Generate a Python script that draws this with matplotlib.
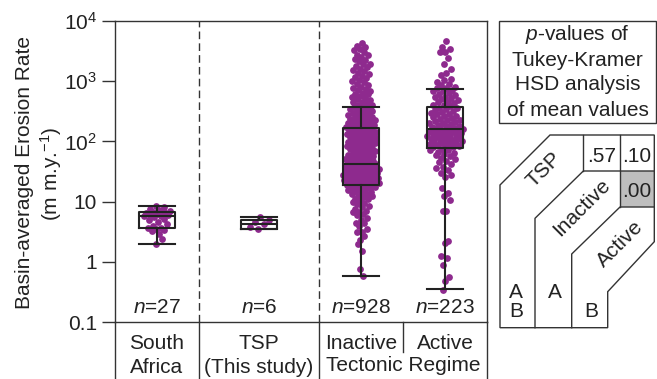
import numpy as np
import matplotlib
matplotlib.use('Agg')
import matplotlib.pyplot as plt
from matplotlib.transforms import blended_transform_factory
from matplotlib.patches import Polygon, Rectangle
from matplotlib.ticker import NullLocator, FixedLocator, FixedFormatter

plt.rcParams['font.family'] = ['Liberation Sans', 'DejaVu Sans']
plt.rcParams['mathtext.fontset'] = 'custom'
plt.rcParams['mathtext.rm'] = 'Liberation Sans'
plt.rcParams['mathtext.it'] = 'Liberation Sans:italic'
plt.rcParams['mathtext.bf'] = 'Liberation Sans:bold'

# ---------------- data ----------------
categories = ['South Africa', 'TSP', 'Inactive', 'Active']
cat_line1 = ['South', 'TSP', 'Inactive', 'Active']
cat_line2 = ['Africa', '(This study)']
regime_label = 'Tectonic Regime'
n_counts = [27, 6, 928, 223]

box_whislo = [2.0, 3.5, 0.58, 0.35]
box_q1 = [3.6, 3.5, 19.0, 77.5]
box_med = [5.7, 4.25, 42.5, 158.0]
box_q3 = [6.6, 5.0, 165.0, 369.0]
box_whishi = [8.3, 5.6, 369.0, 740.0]

south_africa_rates = [2.0, 2.4, 2.9, 3.2, 3.4, 3.5, 3.6, 3.7, 3.9, 4.2, 4.6, 4.9, 5.2, 5.5,
                      5.7, 5.8, 5.9, 6.1, 6.3, 6.5, 6.6, 6.8, 7.0, 7.3, 7.6, 8.0, 8.6]
tsp_rates = [3.5, 3.8, 4.2, 4.5, 4.9, 5.6]

inactive_log10 = [
    3.64, 3.59, 3.57, 3.53, 3.51, 3.48, 3.44, 3.43, 3.40, 3.37, 3.36, 3.33, 3.29, 3.28, 3.25,
    3.23, 3.21, 3.18, 3.17, 3.14, 3.12, 3.09, 3.07, 3.05, 3.02, 3.01, 2.98, 2.95, 2.94, 2.91,
    2.89, 2.87, 2.85, 2.83, 2.81, 2.79, 2.78, 2.76, 2.73, 2.72, 2.70, 2.68, 2.66, 2.65, 2.63,
    2.61, 2.60, 2.58, 2.57, 2.56, 2.54, 2.53, 2.52, 2.51, 2.50, 2.48, 2.47, 2.46, 2.45, 2.44,
    2.42, 2.42, 2.41, 2.39, 2.38, 2.38, 2.37, 2.35, 2.35, 2.34, 2.33, 2.31, 2.31, 2.30, 2.29,
    2.28, 2.27, 2.26, 2.26, 2.24, 2.24, 2.23, 2.22, 2.21, 2.20, 2.19, 2.19, 2.18, 2.16, 2.16,
    2.15, 2.14, 2.13, 2.12, 2.11, 2.10, 2.09, 2.08, 2.07, 2.07, 2.05, 2.05, 2.04, 2.02, 2.02,
    2.01, 1.99, 1.99, 1.98, 1.97, 1.95, 1.95, 1.94, 1.92, 1.92, 1.91, 1.89, 1.89, 1.88, 1.87,
    1.85, 1.85, 1.84, 1.82, 1.81, 1.81, 1.79, 1.78, 1.78, 1.76, 1.75, 1.74, 1.73, 1.72, 1.71,
    1.70, 1.69, 1.68, 1.67, 1.66, 1.65, 1.64, 1.63, 1.62, 1.62, 1.61, 1.60, 1.60, 1.59, 1.58,
    1.58, 1.57, 1.56, 1.56, 1.55, 1.54, 1.54, 1.53, 1.52, 1.52, 1.51, 1.50, 1.50, 1.49, 1.48,
    1.48, 1.47, 1.46, 1.46, 1.45, 1.44, 1.44, 1.43, 1.42, 1.42, 1.41, 1.40, 1.40, 1.39, 1.38,
    1.38, 1.37, 1.36, 1.36, 1.35, 1.34, 1.34, 1.33, 1.32, 1.32, 1.31, 1.30, 1.30, 1.29, 1.28,
    1.28, 1.27, 1.26, 1.25, 1.24, 1.23, 1.22, 1.21, 1.20, 1.19, 1.17, 1.16, 1.15, 1.13, 1.12,
    1.10, 1.09, 1.07, 1.05, 1.04, 1.02, 1.00, 0.98, 0.96, 0.93, 0.91, 0.88, 0.85, 0.83, 0.82,
    0.80, 0.77, 0.73, 0.69, 0.65, 0.64, 0.60, 0.55, 0.50, 0.49, 0.43, 0.37, 0.30, 0.18, -0.12,
    -0.24,
]

active_log10 = [
    3.67, 3.57, 3.54, 3.49, 3.48, 3.38, 3.29, 3.21, 3.14, 3.11, 3.04, 3.02, 2.98, 2.96, 2.93,
    2.91, 2.89, 2.88, 2.86, 2.84, 2.83, 2.80, 2.78, 2.77, 2.74, 2.73, 2.72, 2.70, 2.68, 2.66,
    2.65, 2.63, 2.61, 2.60, 2.58, 2.56, 2.55, 2.53, 2.52, 2.50, 2.49, 2.47, 2.46, 2.45, 2.43,
    2.42, 2.40, 2.39, 2.38, 2.36, 2.35, 2.34, 2.32, 2.31, 2.30, 2.29, 2.27, 2.26, 2.25, 2.24,
    2.23, 2.22, 2.21, 2.20, 2.20, 2.19, 2.18, 2.17, 2.16, 2.15, 2.14, 2.13, 2.12, 2.11, 2.10,
    2.09, 2.08, 2.07, 2.06, 2.05, 2.04, 2.03, 2.02, 2.01, 2.00, 1.99, 1.98, 1.97, 1.96, 1.95,
    1.94, 1.93, 1.92, 1.91, 1.90, 1.88, 1.86, 1.85, 1.83, 1.81, 1.79, 1.77, 1.75, 1.72, 1.70,
    1.67, 1.65, 1.62, 1.58, 1.55, 1.52, 1.48, 1.45, 1.41, 1.23, 1.14, 1.10, 1.02, 0.85, 0.84,
    0.35, 0.32, 0.10, 0.06, -0.05, -0.26, -0.32, -0.47,
]

pvalue_labels = ['.57', '.10', '.00']
group_letters = ['A\nB', 'A', 'B']
pair_labels = ['TSP', 'Inactive', 'Active']
info_lines = ['$\\mathit{p}$-values of', 'Tukey-Kramer', 'HSD analysis', 'of mean values']

# ---------------- style ----------------
PURPLE = '#8E2A8E'
INK = '#222222'
LINE = '#333333'
FS = 15

W, H = 657, 379
fig = plt.figure(figsize=(W / 100, H / 100), dpi=100)
L, R, T, B = 115, 487, 21, 322
ax = fig.add_axes([L / W, 1 - B / H, (R - L) / W, (B - T) / H])

widths = np.array([1.0, 1.43, 1.0, 1.0])
edges = np.concatenate([[0], np.cumsum(widths)])
centers = edges[:-1] + widths / 2
ax.set_xlim(0, edges[-1])
ax.set_yscale('log')
ax.set_ylim(0.1, 1e4)


def jitter(logv, maxhalf, phase):
    v = np.asarray(logv, float)
    d = np.array([np.sum(np.abs(v - x) < 0.12) for x in v], float)
    d = d / d.max()
    hw = maxhalf * np.clip(d ** 0.6, 0.12, 1.0)
    i = np.arange(len(v))
    u = ((i * 0.6180339887 + phase) % 1.0) * 2 - 1
    return u * hw


groups = [np.log10(south_africa_rates), np.log10(tsp_rates),
          np.array(inactive_log10), np.array(active_log10)]
max_half = [0.17, 0.15, 0.225, 0.225]
for k, lv in enumerate(groups):
    xj = centers[k] + jitter(lv, max_half[k], 0.37 + 0.1 * k)
    ax.scatter(xj, 10 ** lv, s=24, c=PURPLE, linewidths=0, zorder=2)

stats = [dict(med=box_med[k], q1=box_q1[k], q3=box_q3[k],
              whislo=box_whislo[k], whishi=box_whishi[k], label=categories[k])
         for k in range(len(categories))]
lp = dict(color=INK, lw=1.5)
ax.bxp(stats, positions=centers, widths=0.437, capwidths=0.437, showfliers=False,
       manage_ticks=False, boxprops=lp, whiskerprops=lp, capprops=lp,
       medianprops=lp, zorder=3)

for e in edges[1:3]:
    ax.axvline(e, color=LINE, lw=1, ls=(0, (5.5, 3)), zorder=1)

ax.yaxis.set_major_locator(FixedLocator([0.1, 1, 10, 100, 1000, 10000]))
ax.yaxis.set_major_formatter(FixedFormatter(['0.1', '1', '10', '10$^{2}$', '10$^{3}$', '10$^{4}$']))
ax.yaxis.set_minor_locator(NullLocator())
ax.set_xticks([])
ax.tick_params(axis='y', length=9.4, width=1, pad=3.5, labelsize=FS,
               color=LINE, labelcolor=INK)
for s in ax.spines.values():
    s.set_color(LINE)
    s.set_linewidth(1)

trans = blended_transform_factory(ax.transData, ax.transAxes)
axh = B - T
for e in [edges[0], edges[1], edges[2], edges[4]]:
    ax.plot([e, e], [0, -(H - B + 5) / axh], transform=trans, clip_on=False,
            color=LINE, lw=1)
ax.plot([edges[3], edges[3]], [0, -(352 - B) / axh], transform=trans, clip_on=False,
        color=LINE, lw=1)

for k in range(len(categories)):
    ax.text(centers[k], (B - 313) / axh, '$\\mathit{n}$=%d' % n_counts[k], transform=trans,
            ha='center', va='baseline', fontsize=FS, color=INK)
    ax.text(centers[k], -(349 - B) / axh, cat_line1[k], transform=trans, clip_on=False,
            ha='center', va='baseline', fontsize=FS, color=INK)
for k, t in enumerate(cat_line2):
    ax.text(centers[k], -(373 - B) / axh, t, transform=trans, clip_on=False,
            ha='center', va='baseline', fontsize=FS, color=INK)
ax.text(edges[3], -(371 - B) / axh, regime_label, transform=trans, clip_on=False,
        ha='center', va='baseline', fontsize=FS, color=INK)

# ---------------- overlay (pixel coords) ----------------
ov = fig.add_axes([0, 0, 1, 1])
ov.set_xlim(0, W)
ov.set_ylim(H, 0)
ov.axis('off')

ov.text(25, 172.5, 'Basin-averaged Erosion Rate', rotation=90, ha='center', va='center',
        fontsize=FS, color=INK)
ov.text(51, 173.5, '(m m.y.$^{-1}$)', rotation=90, ha='center', va='center',
        fontsize=FS, color=INK)

ov.add_patch(Rectangle((499, 21), 157, 102, fill=False, ec=LINE, lw=1))
for i, t in enumerate(info_lines):
    ov.text(577.5, 40.5 + 25 * i, t, ha='center', va='baseline', fontsize=FS, color=INK)

ov.add_patch(Rectangle((620, 171), 34.3, 36, fc='#bebebe', ec='none'))
ov.add_patch(Polygon([(500, 327.7), (500, 185), (550, 135), (654.3, 135), (654.3, 241.7),
                      (607.7, 291.7), (607.7, 327.7)], closed=True, fill=False, ec=LINE, lw=1))
ov.plot([535, 535, 583.3, 654.3], [327.7, 218.3, 171, 171], color=LINE, lw=1)
ov.plot([583.3, 583.3], [135, 171], color=LINE, lw=1)
ov.plot([620, 620], [135, 207], color=LINE, lw=1)
ov.plot([571.7, 571.7, 620, 654.3], [327.7, 254, 207, 207], color=LINE, lw=1)

ov.text(601.5, 162, pvalue_labels[0], ha='center', va='baseline', fontsize=FS, color=INK)
ov.text(637, 162, pvalue_labels[1], ha='center', va='baseline', fontsize=FS, color=INK)
ov.text(637, 197, pvalue_labels[2], ha='center', va='baseline', fontsize=FS, color=INK)

ov.text(544, 170, pair_labels[0], rotation=45, ha='center', va='center', fontsize=FS, color=INK)
ov.text(581.5, 208, pair_labels[1], rotation=45, ha='center', va='center', fontsize=FS, color=INK)
ov.text(620.5, 244, pair_labels[2], rotation=45, ha='center', va='center', fontsize=FS, color=INK)

ov.text(516, 298, 'A', ha='center', va='baseline', fontsize=FS, color=INK)
ov.text(516, 317, 'B', ha='center', va='baseline', fontsize=FS, color=INK)
ov.text(555, 298, group_letters[1], ha='center', va='baseline', fontsize=FS, color=INK)
ov.text(591.5, 317, group_letters[2], ha='center', va='baseline', fontsize=FS, color=INK)

fig.savefig('out.png', dpi=100)
